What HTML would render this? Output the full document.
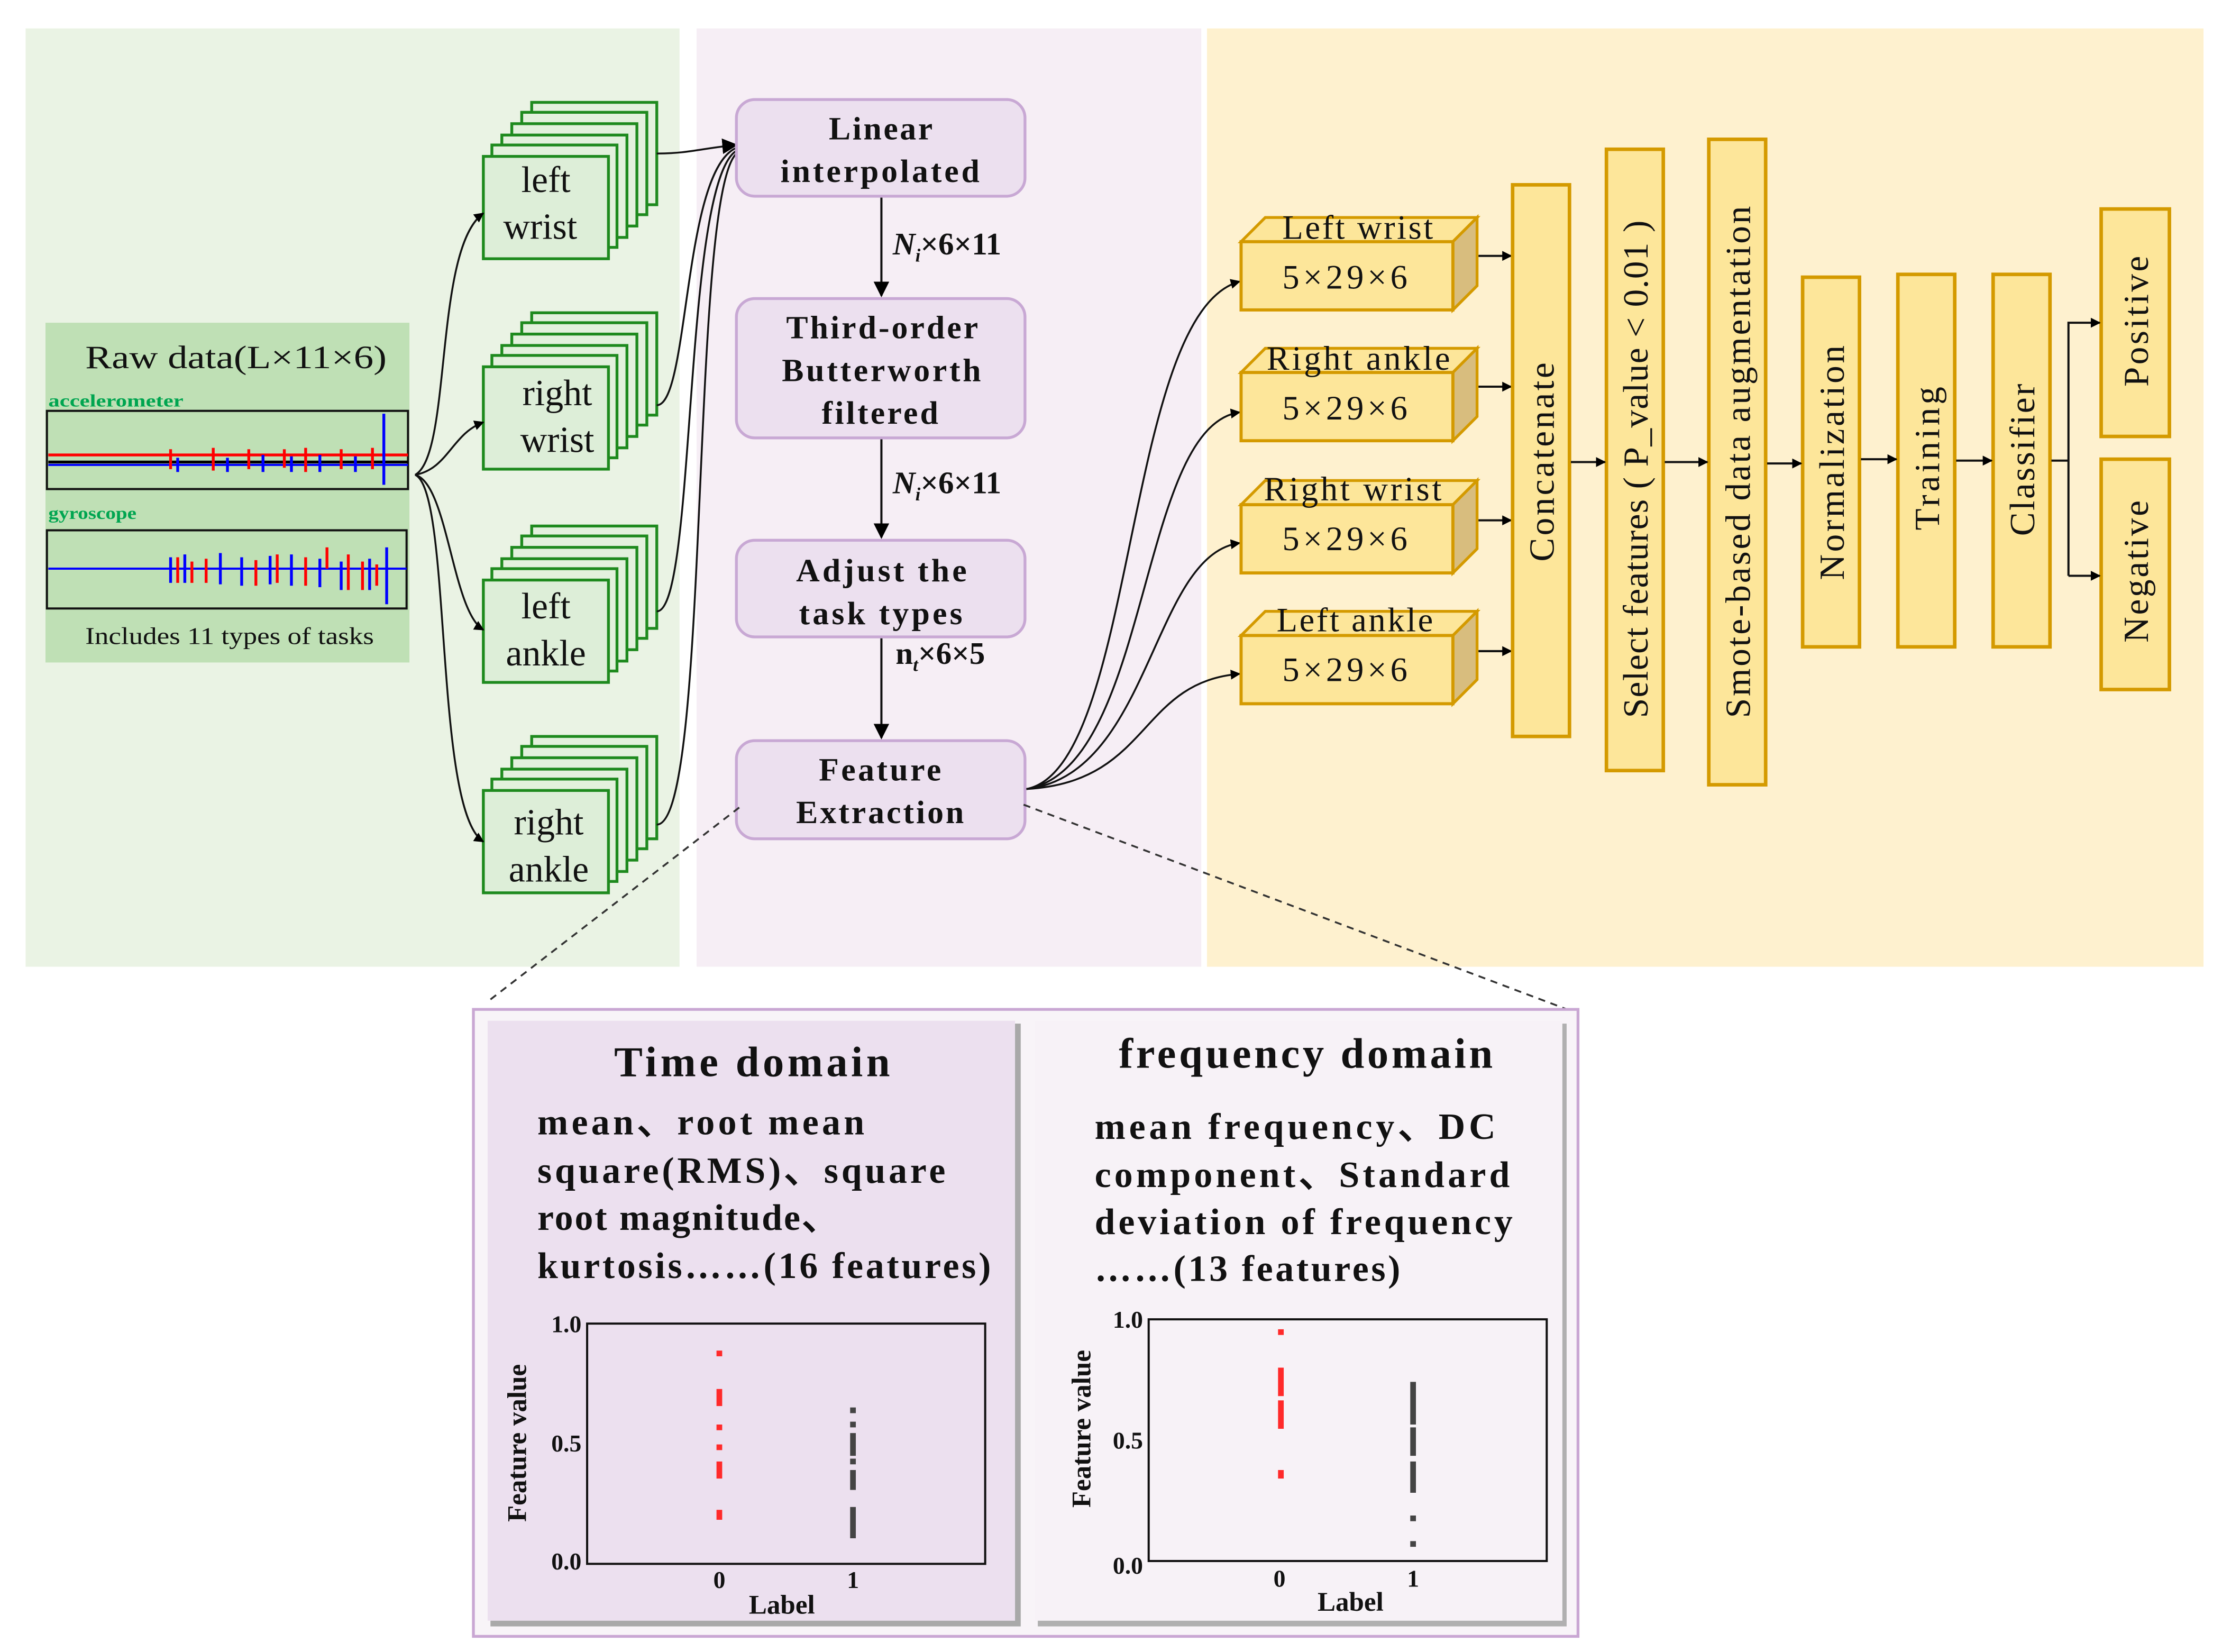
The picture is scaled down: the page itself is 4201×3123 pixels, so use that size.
<!DOCTYPE html>
<html><head><meta charset="utf-8"><style>
html,body{margin:0;padding:0;background:#fff;}
svg{display:block;}
text{font-family:"Liberation Serif",serif;fill:#111;}
</style></head><body>
<svg width="4201" height="3123" viewBox="0 0 1563 1162" preserveAspectRatio="none" xmlns="http://www.w3.org/2000/svg">
<defs>
<marker id="ar" viewBox="0 0 10 10" refX="9" refY="5" markerWidth="7" markerHeight="7" orient="auto" markerUnits="userSpaceOnUse"><path d="M0,0 L10,5 L0,10 z" fill="#000"/></marker>
<marker id="ar2" viewBox="0 0 10 10" refX="9" refY="5" markerWidth="11" markerHeight="11" orient="auto" markerUnits="userSpaceOnUse"><path d="M0,0 L10,5 L0,10 z" fill="#000"/></marker>
<g id="stack">
<rect x="34" y="-38" width="88" height="72" fill="#e3f1dd" stroke="#1e8a1e" stroke-width="2"/>
<rect x="27" y="-31" width="88" height="72" fill="#e3f1dd" stroke="#1e8a1e" stroke-width="2"/>
<rect x="20" y="-23" width="88" height="72" fill="#e3f1dd" stroke="#1e8a1e" stroke-width="2"/>
<rect x="13" y="-15" width="88" height="72" fill="#e3f1dd" stroke="#1e8a1e" stroke-width="2"/>
<rect x="6" y="-8" width="88" height="72" fill="#e3f1dd" stroke="#1e8a1e" stroke-width="2"/>
<rect x="0" y="0" width="88" height="72" fill="#ddeed8" stroke="#1e8a1e" stroke-width="2"/>
</g>
<g id="box3d">
<path d="M0,0 L17,-17 L166,-17 L149,0 z" fill="#fde69a" stroke="#d49a00" stroke-width="2"/>
<path d="M149,0 L166,-17 L166,31 L149,48 z" fill="#d8bd7e" stroke="#d49a00" stroke-width="2"/>
<rect x="0" y="0" width="149" height="48" fill="#fde69a" stroke="#d49a00" stroke-width="2.2"/>
</g>
</defs>
<rect width="1563" height="1162" fill="#fff"/>
<rect x="18" y="20" width="460" height="660" fill="#eaf3e4"/>
<rect x="490" y="20" width="355" height="660" fill="#f6eef5"/>
<rect x="849" y="20" width="701" height="660" fill="#fef1cf"/>

<rect x="32" y="227" width="256" height="239" fill="#bfe0b5"/>
<text x="60" y="259" font-size="23" textLength="212" lengthAdjust="spacingAndGlyphs">Raw data(L×11×6)</text>
<text x="34" y="286" font-size="12" font-weight="bold" style="fill:#00a550" textLength="95" lengthAdjust="spacingAndGlyphs">accelerometer</text>
<rect x="33" y="289" width="254" height="55" fill="none" stroke="#111" stroke-width="1.5"/>
<path d="M34,320 L287,320" stroke="#f00" stroke-width="2"/>
<path d="M34,325 L287,325" stroke="#000" stroke-width="2"/>
<path d="M34,327 L287,327" stroke="#00f" stroke-width="1.5"/>
<path d="M120,316 v14 M150,315 v16 M175,316 v14 M200,316 v13 M215,315 v17 M240,316 v14 M262,315 v15" stroke="#f00" stroke-width="2"/>
<path d="M125,322 v10 M160,322 v10 M185,320 v12 M205,321 v11 M225,320 v12 M250,321 v11 M270,291 v50" stroke="#00f" stroke-width="2"/>
<text x="34" y="365" font-size="12" font-weight="bold" style="fill:#00a550" textLength="62" lengthAdjust="spacingAndGlyphs">gyroscope</text>
<rect x="33" y="373" width="253" height="55" fill="none" stroke="#111" stroke-width="1.5"/>
<path d="M34,400 L286,400" stroke="#00f" stroke-width="1.5"/>
<path d="M125,392 v18 M135,395 v15 M145,393 v17 M180,394 v18 M195,390 v20 M215,392 v20 M230,385 v15 M245,390 v25 M255,395 v20 M265,397 v15" stroke="#f00" stroke-width="2"/>
<path d="M120,392 v18 M130,390 v20 M155,389 v22 M170,392 v20 M190,391 v20 M205,390 v22 M225,393 v20 M240,395 v20 M260,393 v22 M272,385 v40" stroke="#00f" stroke-width="2"/>
<text x="60" y="453" font-size="17" textLength="203" lengthAdjust="spacingAndGlyphs">Includes 11 types of tasks</text>

<use href="#stack" x="340" y="110"/>
<use href="#stack" x="340" y="258"/>
<use href="#stack" x="340" y="408"/>
<use href="#stack" x="340" y="556"/>
<text x="384" y="135" font-size="26" text-anchor="middle">left</text>
<text x="380" y="168" font-size="26" text-anchor="middle">wrist</text>
<text x="392" y="285" font-size="26" text-anchor="middle">right</text>
<text x="392" y="318" font-size="26" text-anchor="middle">wrist</text>
<text x="384" y="435" font-size="26" text-anchor="middle">left</text>
<text x="384" y="468" font-size="26" text-anchor="middle">ankle</text>
<text x="386" y="587" font-size="26" text-anchor="middle">right</text>
<text x="386" y="620" font-size="26" text-anchor="middle">ankle</text>

<g fill="none" stroke="#111" stroke-width="1.3">
<path d="M292,334 C318,320 305,175 340,150" marker-end="url(#ar)"/>
<path d="M292,334 C315,330 318,305 340,297" marker-end="url(#ar)"/>
<path d="M292,334 C315,340 318,430 340,443" marker-end="url(#ar)"/>
<path d="M292,334 C318,345 305,570 340,592" marker-end="url(#ar)"/>
<path d="M462,108 C485,108 495,104 518,102" marker-end="url(#ar2)"/>
<path d="M462,285 C485,285 480,120 518,104"/>
<path d="M462,430 C490,430 480,130 518,106"/>
<path d="M462,580 C500,580 485,140 518,108"/>
</g>

<g fill="#ece0ef" stroke="#c8a8d4" stroke-width="2">
<rect x="518" y="70" width="203" height="68" rx="13"/>
<rect x="518" y="210" width="203" height="98" rx="13"/>
<rect x="518" y="380" width="203" height="68" rx="13"/>
<rect x="518" y="521" width="203" height="69" rx="13"/>
</g>
<g font-size="23" font-weight="bold" lengthAdjust="spacingAndGlyphs">
<text x="583" y="98" textLength="73">Linear</text>
<text x="549" y="128" textLength="140">interpolated</text>
<text x="553" y="238" textLength="135">Third-order</text>
<text x="550" y="268" textLength="140">Butterworth</text>
<text x="578" y="298" textLength="82">filtered</text>
<text x="560" y="409" textLength="120">Adjust the</text>
<text x="562" y="439" textLength="115">task types</text>
<text x="576" y="549" textLength="86">Feature</text>
<text x="560" y="579" textLength="118">Extraction</text>
</g>
<g stroke="#111" stroke-width="1.5" fill="none">
<path d="M620,139 L620,208" marker-end="url(#ar2)"/>
<path d="M620,309 L620,378" marker-end="url(#ar2)"/>
<path d="M620,449 L620,519" marker-end="url(#ar2)"/>
</g>
<g font-size="22" font-weight="bold">
<text x="628" y="179"><tspan font-style="italic">N</tspan><tspan font-size="13" dy="5" font-style="italic">i</tspan><tspan dy="-5">×6×11</tspan></text>
<text x="628" y="347"><tspan font-style="italic">N</tspan><tspan font-size="13" dy="5" font-style="italic">i</tspan><tspan dy="-5">×6×11</tspan></text>
<text x="630" y="467">n<tspan font-size="13" dy="5" font-style="italic">t</tspan><tspan dy="-5">×6×5</tspan></text>
</g>

<g fill="none" stroke="#111" stroke-width="1.3">
<path d="M722,555 C800,540 790,220 872,198" marker-end="url(#ar)"/>
<path d="M722,555 C810,540 800,300 872,290" marker-end="url(#ar)"/>
<path d="M722,555 C810,545 810,390 872,382" marker-end="url(#ar)"/>
<path d="M722,555 C810,550 800,480 872,474" marker-end="url(#ar)"/>
</g>

<use href="#box3d" x="873" y="170"/>
<use href="#box3d" x="873" y="262"/>
<use href="#box3d" x="873" y="355"/>
<use href="#box3d" x="873" y="447"/>
<g font-size="24" lengthAdjust="spacingAndGlyphs">
<text x="902" y="168" textLength="106">Left wrist</text>
<text x="891" y="260" textLength="129">Right ankle</text>
<text x="889" y="352" textLength="125">Right wrist</text>
<text x="898" y="444" textLength="110">Left ankle</text>
<text x="902" y="203" textLength="88">5×29×6</text>
<text x="902" y="295" textLength="88">5×29×6</text>
<text x="902" y="387" textLength="88">5×29×6</text>
<text x="902" y="479" textLength="88">5×29×6</text>
</g>
<g stroke="#111" stroke-width="1.5">
<path d="M1040,180 L1063,180" marker-end="url(#ar)"/>
<path d="M1040,272 L1063,272" marker-end="url(#ar)"/>
<path d="M1040,366 L1063,366" marker-end="url(#ar)"/>
<path d="M1040,458 L1063,458" marker-end="url(#ar)"/>
</g>

<g fill="#fde69a" stroke="#d49a00" stroke-width="2.5">
<rect x="1064" y="130" width="40" height="388"/>
<rect x="1130" y="105" width="40" height="437"/>
<rect x="1202" y="98" width="40" height="454"/>
<rect x="1268" y="195" width="40" height="260"/>
<rect x="1335" y="193" width="40" height="262"/>
<rect x="1402" y="193" width="40" height="262"/>
<rect x="1478" y="147" width="48" height="160"/>
<rect x="1478" y="323" width="48" height="162"/>
</g>
<g font-size="25" lengthAdjust="spacingAndGlyphs">
<text transform="translate(1093,395) rotate(-90)" textLength="140">Concatenate</text>
<text transform="translate(1159,505) rotate(-90)" textLength="350">Select features ( P_value &lt; 0.01 )</text>
<text transform="translate(1231,505) rotate(-90)" textLength="360">Smote-based data augmentation</text>
<text transform="translate(1297,408) rotate(-90)" textLength="165">Normalization</text>
<text transform="translate(1364,373) rotate(-90)" textLength="101">Training</text>
<text transform="translate(1431,377) rotate(-90)" textLength="107">Classifier</text>
<text transform="translate(1511,272) rotate(-90)" textLength="92">Positive</text>
<text transform="translate(1511,452) rotate(-90)" textLength="100">Negative</text>
</g>
<g stroke="#111" stroke-width="1.5" fill="none">
<path d="M1105,325 L1129,325" marker-end="url(#ar)"/>
<path d="M1171,325 L1201,325" marker-end="url(#ar)"/>
<path d="M1243,326 L1267,326" marker-end="url(#ar)"/>
<path d="M1309,323 L1334,323" marker-end="url(#ar)"/>
<path d="M1376,324 L1401,324" marker-end="url(#ar)"/>
<path d="M1443,324 L1455,324"/>
<path d="M1455,405 L1455,227 L1477,227" marker-end="url(#ar)"/>
<path d="M1455,405 L1477,405" marker-end="url(#ar)"/>
</g>

<g stroke="#333" stroke-width="1.3" stroke-dasharray="5,4" fill="none">
<path d="M520,568 L345,703"/>
<path d="M720,566 L1105,711"/>
</g>

<rect x="333" y="710" width="777" height="441" fill="#f8f4f8" stroke="#c9a7d3" stroke-width="2"/>
<rect x="345" y="720" width="373" height="424" fill="#a9a9a9"/>
<rect x="343" y="718" width="371" height="422" fill="#ece0ef"/>
<rect x="730" y="720" width="372" height="424" fill="#b0b0b0"/>
<rect x="728" y="718" width="371" height="422" fill="#f7f2f7"/>
<g font-weight="bold" lengthAdjust="spacingAndGlyphs">
<text x="432" y="757" font-size="30" textLength="194">Time domain</text>
<text x="378" y="798" font-size="26" textLength="230">mean、root mean</text>
<text x="378" y="832" font-size="26" textLength="287">square(RMS)、square</text>
<text x="378" y="865" font-size="26" textLength="212">root magnitude、</text>
<text x="378" y="899" font-size="26" textLength="319">kurtosis……(16 features)</text>
<text x="787" y="751" font-size="30" textLength="263">frequency domain</text>
<text x="770" y="801" font-size="26" textLength="282">mean frequency、DC</text>
<text x="770" y="835" font-size="26" textLength="292">component、Standard</text>
<text x="770" y="868" font-size="26" textLength="294">deviation of frequency</text>
<text x="770" y="901" font-size="26" textLength="215">……(13 features)</text>
</g>

<rect x="413" y="931" width="280" height="169" fill="none" stroke="#111" stroke-width="1.5"/>
<g font-size="17" font-weight="bold">
<text x="409" y="937" text-anchor="end">1.0</text>
<text x="409" y="1021" text-anchor="end">0.5</text>
<text x="409" y="1104" text-anchor="end">0.0</text>
<text x="506" y="1117" text-anchor="middle">0</text>
<text x="600" y="1117" text-anchor="middle">1</text>
<text x="550" y="1135" text-anchor="middle" font-size="19">Label</text>
<text transform="translate(370,1015) rotate(-90)" text-anchor="middle" font-size="19">Feature value</text>
</g>
<g fill="#ff2a2a">
<rect x="504" y="950" width="4" height="4"/><rect x="504" y="977" width="4" height="12"/><rect x="504" y="1002" width="4" height="4"/>
<rect x="504" y="1016" width="4" height="4"/><rect x="504" y="1028" width="4" height="12"/><rect x="504" y="1062" width="4" height="7"/>
</g>
<g fill="#444">
<rect x="598" y="990" width="4" height="4"/><rect x="598" y="1000" width="4" height="4"/><rect x="598" y="1008" width="4" height="16"/>
<rect x="598" y="1026" width="4" height="4"/><rect x="598" y="1034" width="4" height="14"/><rect x="598" y="1060" width="4" height="22"/>
</g>

<rect x="808" y="928" width="280" height="170" fill="none" stroke="#111" stroke-width="1.5"/>
<g font-size="17" font-weight="bold">
<text x="804" y="934" text-anchor="end">1.0</text>
<text x="804" y="1019" text-anchor="end">0.5</text>
<text x="804" y="1107" text-anchor="end">0.0</text>
<text x="900" y="1116" text-anchor="middle">0</text>
<text x="994" y="1116" text-anchor="middle">1</text>
<text x="950" y="1133" text-anchor="middle" font-size="19">Label</text>
<text transform="translate(767,1005) rotate(-90)" text-anchor="middle" font-size="19">Feature value</text>
</g>
<g fill="#ff2a2a">
<rect x="899" y="935" width="4" height="4"/><rect x="899" y="962" width="4" height="20"/><rect x="899" y="985" width="4" height="20"/><rect x="899" y="1034" width="4" height="6"/>
</g>
<g fill="#444">
<rect x="992" y="972" width="4" height="30"/><rect x="992" y="1004" width="4" height="20"/><rect x="992" y="1028" width="4" height="22"/><rect x="992" y="1066" width="4" height="4"/><rect x="992" y="1084" width="4" height="4"/>
</g>
</svg>
</body></html>
